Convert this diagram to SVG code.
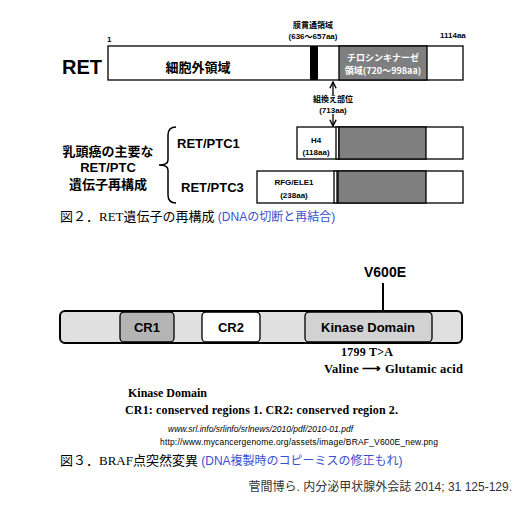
<svg xmlns="http://www.w3.org/2000/svg" width="530" height="510" viewBox="0 0 530 510">
<style>
.b{font-family:"Liberation Sans","Noto Sans CJK JP",sans-serif;font-weight:bold;fill:#000}
.j{font-family:"Noto Sans CJK JP",sans-serif;font-weight:bold;fill:#000}
.s{font-family:"Liberation Serif","Noto Sans CJK JP",serif;fill:#000}
.blue{font-family:"Liberation Sans","Noto Sans CJK JP",sans-serif;fill:#3a4fd0}
.box{stroke:#000;stroke-width:1.3}
.bar{stroke:#000;stroke-width:2}
</style>
<defs>
<marker id="ah" viewBox="0 0 10 10" refX="9" refY="5" markerWidth="6" markerHeight="6" orient="auto"><path d="M1,1 L9,5 L1,9" fill="none" stroke="#000" stroke-width="1.8"/></marker>
</defs>
<rect width="530" height="510" fill="#fff"/>

<g id="ret">
<text class="b" x="62" y="74" font-size="20">RET</text>
<text class="b" x="107" y="42" font-size="8">1</text>
<text class="b" x="440" y="38" font-size="8">1114aa</text>
<rect class="box" x="108" y="46" width="355" height="34" fill="#fff"/>
<rect x="310" y="46" width="8" height="34" fill="#000"/>
<rect class="box" x="339" y="46" width="88" height="34" fill="#7f7f7f"/>
<text class="j" x="198" y="72" font-size="13" text-anchor="middle">細胞外領域</text>
<text class="j" x="383" y="61" font-size="9" text-anchor="middle" style="fill:#fff">チロシンキナーゼ</text>
<text class="j" x="383" y="74" font-size="9" text-anchor="middle" style="fill:#fff">領域(720～998aa)</text>
<text class="j" x="313" y="28" font-size="8" text-anchor="middle">膜貫通領域</text>
<text class="b" x="313" y="39" font-size="8" text-anchor="middle">(636～657aa)</text>
<text class="j" x="333" y="102" font-size="8" text-anchor="middle">組換え部位</text>
<text class="b" x="333" y="113" font-size="8" text-anchor="middle">(713aa)</text>
</g>

<g id="ptc-label">
<text class="j" x="108" y="156" font-size="13" text-anchor="middle">乳頭癌の主要な</text>
<text class="b" x="108" y="172" font-size="13" text-anchor="middle">RET/PTC</text>
<text class="j" x="108" y="189" font-size="13" text-anchor="middle">遺伝子再構成</text>
</g>

<g id="ptc1">
<text class="b" x="177" y="148" font-size="13">RET/PTC1</text>
<rect class="box" x="297" y="127" width="166" height="32" fill="#fff"/>
<rect class="box" x="336" y="127" width="3" height="32" fill="#fff"/>
<rect class="box" x="339" y="127" width="87" height="32" fill="#7f7f7f"/>
<text class="b" x="316" y="143" font-size="8" text-anchor="middle">H4</text>
<text class="b" x="316" y="155" font-size="8" text-anchor="middle">(118aa)</text>
</g>

<g id="ptc3">
<text class="b" x="181" y="192" font-size="13">RET/PTC3</text>
<rect class="box" x="257" y="171" width="206" height="32" fill="#fff"/>
<rect class="box" x="334" y="171" width="3" height="32" fill="#fff"/>
<rect class="box" x="338" y="171" width="88" height="32" fill="#7f7f7f"/>
<text class="b" x="294" y="185" font-size="8" text-anchor="middle">RFG/ELE1</text>
<text class="b" x="294" y="198" font-size="8" text-anchor="middle">(238aa)</text>
</g>

<g id="connectors" fill="none" stroke="#000" stroke-width="1.3">
<line x1="333" y1="95" x2="333" y2="82" marker-end="url(#ah)"/>
<line x1="333" y1="114" x2="333" y2="126" marker-end="url(#ah)"/>
<path d="M176,127 Q168,127 168,135 L168,160 Q168,165 159,165 Q168,165 168,170 L168,195 Q168,203 176,203" stroke-width="1.5"/>
<line x1="383" y1="283" x2="383" y2="311" stroke-width="2"/>
</g>

<text x="60" y="221"><tspan class="s" font-size="13">図２．RET遺伝子の再構成 </tspan><tspan class="blue" font-size="12">(DNAの切断と再結合)</tspan></text>

<g id="braf">
<rect class="bar" x="60" y="311" width="402" height="32" rx="5" fill="#e0e0e0"/>
<rect class="box" x="120" y="312" width="54" height="30" rx="4" fill="#b4b4b4"/>
<rect class="box" x="202" y="312" width="58" height="30" rx="4" fill="#fff"/>
<rect class="box" x="305" y="312" width="127" height="30" rx="4" fill="#d2d2d2"/>
<text class="b" x="147" y="332" font-size="13" text-anchor="middle">CR1</text>
<text class="b" x="231" y="332" font-size="13" text-anchor="middle">CR2</text>
<text class="b" x="368" y="332" font-size="13" text-anchor="middle">Kinase Domain</text>
<text class="b" x="385" y="277" font-size="14" text-anchor="middle">V600E</text>
<text class="s" x="341" y="356" font-size="12" font-weight="bold" textLength="52">1799 T&gt;A</text>
<text class="s" x="324" y="373" font-size="12.5" font-weight="bold" textLength="139">Valine ⟶ Glutamic acid</text>
</g>

<text class="s" x="128" y="397" font-size="12" font-weight="bold" textLength="79">Kinase Domain</text>
<text class="s" x="125" y="414" font-size="12" font-weight="bold" textLength="273">CR1: conserved regions 1. CR2: conserved region 2.</text>
<text x="168" y="432" font-size="8.5" font-style="italic" font-family="Liberation Sans,sans-serif" textLength="185">www.srl.info/srlinfo/srlnews/2010/pdf/2010-01.pdf</text>
<text x="160" y="445" font-size="8.5" font-family="Liberation Sans,sans-serif" textLength="278">http://www.mycancergenome.org/assets/image/BRAF_V600E_new.png</text>
<text x="60" y="465"><tspan class="s" font-size="13">図３．BRAF点突然変異 </tspan><tspan class="blue" font-size="12">(DNA複製時のコピーミスの修正もれ)</tspan></text>
<text x="512" y="491" font-size="12" text-anchor="end" font-family="Liberation Sans,Noto Sans CJK JP,sans-serif" fill="#333">菅間博ら. 内分泌甲状腺外会誌 2014; 31 125-129.</text>
</svg>
